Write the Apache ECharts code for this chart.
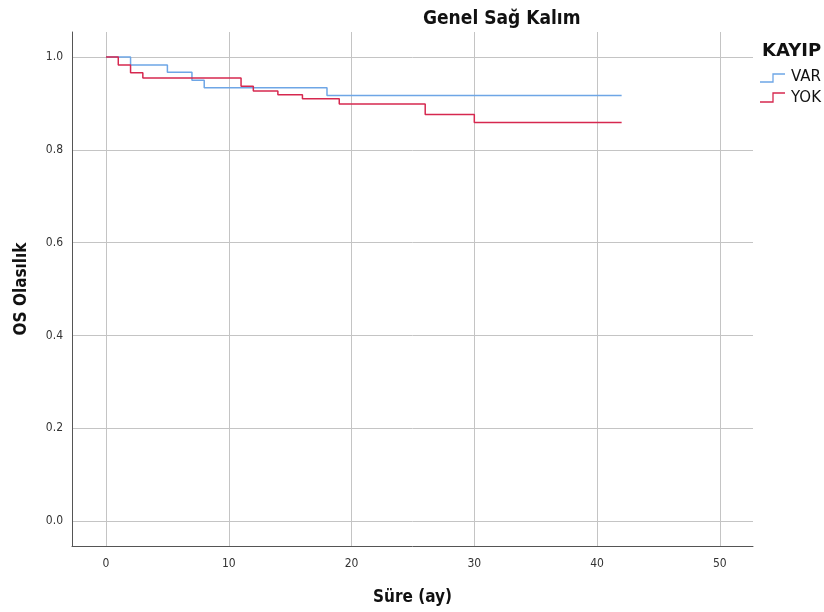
<!DOCTYPE html>
<html><head><meta charset="utf-8">
<script src="https://cdn.jsdelivr.net/npm/echarts@6/dist/echarts.min.js"></script>
<style>html,body{margin:0;padding:0;background:#fff}#c{width:824px;height:612px}</style>
</head><body><div id="c"></div>
<script>
const seriesNames = ['VAR', 'YOK'];
const varTimes = [0, 2, 5, 7, 8, 18, 42];
const varSurv  = [1.0, 0.983, 0.967, 0.950, 0.934, 0.917, 0.917];
const yokTimes = [0, 1, 2, 3, 11, 12, 14, 16, 19, 26, 30, 42];
const yokSurv  = [1.0, 0.983, 0.966, 0.955, 0.937, 0.927, 0.919, 0.910, 0.899, 0.876, 0.859, 0.859];
const titleText = 'Genel Sağ Kalım';
const legendTitle = 'KAYIP';
const xName = 'Süre (ay)';
const yName = 'OS Olasılık';

const FONT = '"DejaVu Sans Condensed", "DejaVu Sans", sans-serif';
const colors = ['#6ea6e6', '#d6284f'];
const pair = (t, s) => t.map((v, i) => [v, s[i]]);

// step-shaped legend icons (decoration only)
const iconGraphics = [[82, 74], [102, 93]].map(([lo, hi], i) => ({
  type: 'polyline', silent: true,
  shape: {points: [[760, lo], [773, lo], [773, hi], [785, hi]]},
  style: {stroke: colors[i], lineWidth: 1.3, fill: null}
}));

const chart = echarts.init(document.getElementById('c'), null, {renderer: 'canvas'});
chart.setOption({
  animation: false,
  backgroundColor: '#fff',
  title: [
    {text: titleText, left: 418, top: 5,
     textStyle: {fontFamily: FONT, fontSize: 19, fontWeight: 'bold', color: '#111'}},
    {text: legendTitle, left: 757, top: 37,
     textStyle: {fontFamily: '"DejaVu Sans", sans-serif', fontSize: 18, fontWeight: 'bold', color: '#111'}}
  ],
  legend: {
    data: seriesNames.map(n => ({name: n})),
    orient: 'vertical', left: 760, top: 70, padding: 0,
    itemWidth: 26, itemHeight: 14, itemGap: 6,
    icon: 'rect',
    itemStyle: {opacity: 0},
    textStyle: {fontFamily: '"DejaVu Sans", sans-serif', fontSize: 15, color: '#111'}
  },
  graphic: iconGraphics,
  grid: {left: 72, right: 71, top: 32, bottom: 66, containLabel: false, outerBoundsMode: 'none'},
  xAxis: {
    type: 'value', min: -2.77, max: 52.7,
    name: xName, nameLocation: 'middle', nameGap: 43,
    nameTextStyle: {fontFamily: FONT, fontSize: 17, fontWeight: 'bold', color: '#111'},
    axisLine: {show: true, onZero: false, lineStyle: {color: '#555', width: 1}},
    axisTick: {show: false},
    axisLabel: {showMinLabel: false, showMaxLabel: false, margin: 12,
      fontFamily: FONT, fontSize: 12, color: '#333'},
    splitLine: {show: true, showMinLine: false, showMaxLine: false, lineStyle: {color: '#c4c4c4', width: 1}}
  },
  yAxis: {
    type: 'value', min: -0.054, max: 1.054,
    name: yName, nameLocation: 'middle', nameGap: 42, nameRotate: 90,
    nameTextStyle: {fontFamily: FONT, fontSize: 17, fontWeight: 'bold', color: '#111'},
    axisLine: {show: true, onZero: false, lineStyle: {color: '#555', width: 1}},
    axisTick: {show: false},
    axisLabel: {showMinLabel: false, showMaxLabel: false, margin: 9,
      fontFamily: FONT, fontSize: 12, color: '#333', formatter: v => v.toFixed(1)},
    splitLine: {show: true, showMinLine: false, showMaxLine: false, lineStyle: {color: '#c4c4c4', width: 1}}
  },
  series: [
    {name: seriesNames[0], type: 'line', step: 'end', showSymbol: false, symbol: 'none',
     data: pair(varTimes, varSurv), color: colors[0], lineStyle: {width: 1.5, color: colors[0]}, z: 3},
    {name: seriesNames[1], type: 'line', step: 'end', showSymbol: false, symbol: 'none',
     data: pair(yokTimes, yokSurv), color: colors[1], lineStyle: {width: 1.5, color: colors[1]}, z: 4}
  ]
});
</script></body></html>
